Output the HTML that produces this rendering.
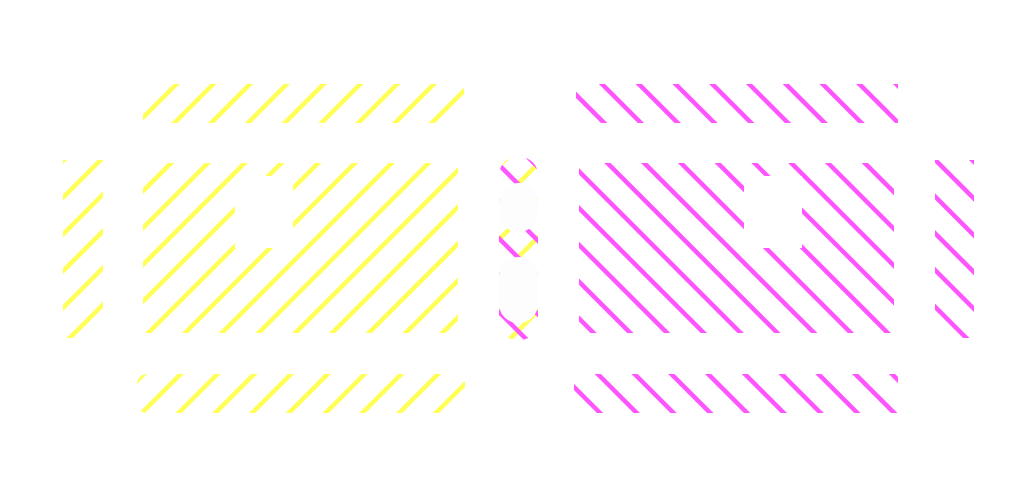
<!DOCTYPE html>
<html><head><style>html,body{margin:0;padding:0;background:#fff;width:1036px;height:489px;overflow:hidden}</style></head>
<body>
<svg width="1036" height="489" viewBox="0 0 1036 489" xmlns="http://www.w3.org/2000/svg">
<defs>
<pattern id="y" patternUnits="userSpaceOnUse" width="26" height="26" patternTransform="rotate(45)">
<rect x="0" y="0" width="4.5" height="26" fill="#ffff55"/>
</pattern>
<pattern id="m" patternUnits="userSpaceOnUse" width="26" height="26" patternTransform="rotate(-45)">
<rect x="0" y="0" width="4.5" height="26" fill="#ff55ff"/>
</pattern>
</defs>
<rect width="1036" height="489" fill="#fff"/>
<!-- yellow -->
<rect x="143" y="84" width="321" height="39" fill="url(#y)"/>
<rect x="63" y="160" width="40" height="178" fill="url(#y)"/>
<rect x="143" y="163" width="315" height="170" fill="url(#y)"/>
<rect x="235" y="176" width="58" height="72" fill="#fff"/>
<rect x="137" y="374" width="328" height="39" rx="10" fill="url(#y)"/>
<!-- magenta -->
<rect x="576" y="84" width="322" height="39" fill="url(#m)"/>
<rect x="579" y="163" width="315" height="170" fill="url(#m)"/>
<rect x="744" y="176" width="58" height="72" fill="#fff"/>
<rect x="935" y="160" width="39" height="178" fill="url(#m)"/>
<rect x="574" y="374" width="324" height="39" fill="url(#m)"/>
<!-- pill -->
<rect x="499" y="157" width="39" height="183" rx="18" fill="url(#y)"/>
<rect x="499" y="157" width="39" height="183" rx="18" fill="url(#m)"/>
<rect x="499" y="183" width="39" height="49" rx="19" fill="#fdfdfd"/>
<rect x="499" y="257" width="39" height="66" rx="19" fill="#fdfdfd"/>
</svg>
</body></html>
